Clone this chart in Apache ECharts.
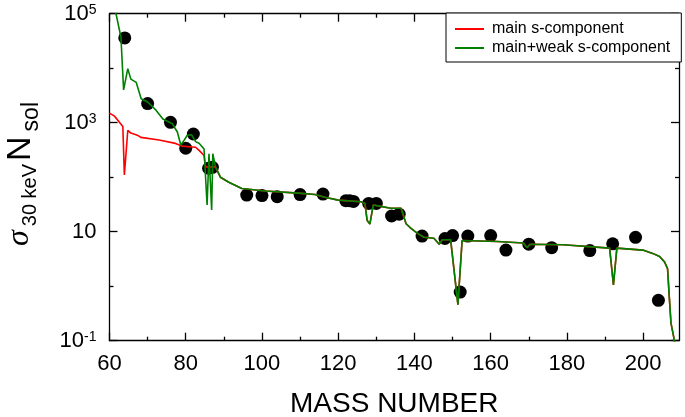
<!DOCTYPE html>
<html><head><meta charset="utf-8">
<script src="https://cdn.jsdelivr.net/npm/echarts@6/dist/echarts.min.js"></script>
<style>html,body{margin:0;padding:0;background:#fff}#c{width:685px;height:417px}</style>
</head><body><div id="c"></div>
<script>
// Measured abundances (black dots)
const dotMass  = [64, 70, 76, 80, 82, 86, 87, 96, 100, 104, 110, 116, 122, 123, 124, 128, 130, 134, 136, 142, 148, 150, 152, 154, 160, 164, 170, 176, 186, 192, 198, 204];
const dotValue = [36000, 2240, 1015, 340, 620, 146, 152, 47, 46, 44, 48, 49, 37, 37, 36, 33, 33, 19.4, 21, 8.3, 7.5, 8.5, 0.78, 8.3, 8.5, 4.6, 5.9, 5.1, 4.5, 6.0, 7.9, 0.55];

// main s-component, part below A~88
const mainHeadMass  = [60, 61.3, 62.6, 63.5, 63.9, 64.8, 65.6, 67.3, 68.2, 73, 77.3, 79, 82.6, 83.5, 84.8, 85.2];
const mainHeadValue = [1500, 1320, 1020, 850, 110, 725, 645, 590, 537, 480, 417, 372, 355, 310, 250, 155];

// main+weak s-component, part below A~88
const weakHeadMass  = [61.2, 61.7, 63.0, 63.7, 64.8, 65.6, 67.0, 68.3, 70.0, 72.2, 74.0, 76.5, 77.8, 78.7, 79.6, 80.4, 81.5, 82.6, 83.5, 84.8, 85.6, 86.1, 86.8, 87.1];
const weakHeadValue = [140000, 100000, 37000, 4000, 9800, 6300, 5500, 2750, 2400, 1700, 1170, 955, 676, 389, 479, 589, 600, 450, 420, 330, 31, 270, 25, 270];

// common part of both curves (A >= 88)
const tailMass  = [87.8, 89.1, 91.3, 94.7, 100.8, 109.5, 113.9, 116.5, 120, 126, 127.0, 127.6, 128.3, 129.2, 130.8, 133.8, 136.5, 137.8, 139.1, 140.8, 142.5, 145.1, 146.5, 147.3, 149.5, 151.4, 152.5, 161.7, 168.6, 169.5, 170.4, 179, 191.2, 192.2, 193.1, 199.9, 202.5, 204.3, 205.6, 206.4, 206.9, 207.3, 208.2, 208.6];
const tailValue = [155, 100, 81, 62, 56, 51, 48, 43, 38, 35.5, 33, 16, 13.8, 31, 29.5, 27, 27, 14, 11.5, 9.3, 7.9, 7.6, 5.9, 7.1, 7.1, 0.46, 6.9, 6.6, 6.2, 5.1, 5.9, 5.75, 5.0, 1.06, 5.0, 4.6, 4.0, 3.5, 2.8, 2.1, 0.56, 0.21, 0.1, 0.08];

const xMajorTicks = [60, 80, 100, 120, 140, 160, 180, 200];
const xMinorTicks = [70, 90, 110, 130, 150, 170, 190];
const yMajorTicks = [0.1, 10, 1000, 100000];
const yMinorTicks = [1, 100, 10000];

const seriesNames = ['main s-component', 'main+weak s-component'];

const zip = (a, b) => a.map((v, i) => [v, b[i]]);
const FONT = "'Liberation Sans', Arial, sans-serif";
const X_MIN = 60, X_MAX = 209.4, Y_MIN = 0.1, Y_MAX = 100000;

const lineCol = '#000';
function xAx(pos, ticks, len, labels, showLine) {
  return {
    type: 'value', position: pos, min: X_MIN, max: X_MAX,
    axisLine: {show: showLine, onZero: false, lineStyle: {color: lineCol, width: 1.3}},
    axisTick: {show: true, inside: true, length: len, customValues: ticks, lineStyle: {color: lineCol, width: 1.3}},
    axisLabel: labels ? {show: true, customValues: ticks, fontSize: 22, color: '#000', fontFamily: FONT, margin: 12} : {show: false},
    splitLine: {show: false}
  };
}
function yAx(pos, ticks, len, labels, showLine) {
  return {
    type: 'log', logBase: 10, position: pos, min: Y_MIN, max: Y_MAX,
    axisLine: {show: showLine, onZero: false, lineStyle: {color: lineCol, width: 1.3}},
    axisTick: {show: true, inside: true, length: len, customValues: ticks, lineStyle: {color: lineCol, width: 1.3}},
    axisLabel: labels ? {
      show: true, customValues: ticks, margin: 13, color: '#000', fontFamily: FONT,
      formatter: function (v) {
        const e = Math.round(Math.log10(v));
        if (e === 1) return '{m|10}';
        return '{m|10}{s|' + e + '}';
      },
      rich: {
        m: {fontSize: 22, lineHeight: 22, verticalAlign: 'middle', fontFamily: FONT, color: '#000'},
        s: {fontSize: 14, lineHeight: 14, verticalAlign: 'top', padding: [0, 0, 18, 0], fontFamily: FONT, color: '#000'}
      }
    } : {show: false},
    splitLine: {show: false}
  };
}

const chart = echarts.init(document.getElementById('c'), null, {renderer: 'canvas'});
chart.setOption({
  animation: false,
  backgroundColor: '#fff',
  grid: {left: 109.5, top: 13.7, right: 6, bottom: 76.3, containLabel: false, outerBoundsMode: 'none'},
  xAxis: [
    Object.assign(xAx('bottom', xMajorTicks, 8, true, true), {
      name: 'MASS NUMBER', nameLocation: 'middle', nameGap: 50,
      nameTextStyle: {fontSize: 28, color: '#000', fontFamily: FONT}
    }),
    xAx('bottom', xMinorTicks, 4, false, false),
    xAx('top', xMajorTicks, 8, false, true),
    xAx('top', xMinorTicks, 4, false, false)
  ],
  yAxis: [
    yAx('left', yMajorTicks, 8, true, true),
    yAx('left', yMinorTicks, 4, false, false),
    yAx('right', yMajorTicks, 8, false, true),
    yAx('right', yMinorTicks, 4, false, false)
  ],
  legend: {
    data: seriesNames.map(n => ({name: n, icon: 'rect'})), orient: 'vertical', left: 446, top: 13,
    borderColor: '#000', borderWidth: 1, backgroundColor: '#fff', borderRadius: 0,
    padding: [8, 11, 6, 9], itemGap: 3, itemWidth: 29, itemHeight: 2,
    textStyle: {fontSize: 16, lineHeight: 16, color: '#000', fontFamily: FONT, padding: [0, 0, 0, 3]}
  },
  graphic: [{
    type: 'text', x: 21, y: 174, rotation: Math.PI / 2,
    style: {
      text: '{s|σ}{a|30 keV}{n|N}{b|sol}',
      align: 'center', verticalAlign: 'middle', fill: '#000',
      rich: {
        s: {fontSize: 32, lineHeight: 35, verticalAlign: 'top', fontStyle: 'italic', fontFamily: "'Liberation Serif', serif", fill: '#000', padding: [0, 3, 0, 0]},
        a: {fontSize: 20, lineHeight: 20, verticalAlign: 'top', padding: [17, 3, 0, 1], fontFamily: FONT, fill: '#000'},
        n: {fontSize: 34, lineHeight: 35, verticalAlign: 'top', fontFamily: FONT, fill: '#000', padding: [0, 5, 0, 0]},
        b: {fontSize: 23, lineHeight: 23, verticalAlign: 'top', padding: [17, 0, 0, 0], fontFamily: FONT, fill: '#000'}
      }
    }
  }],
  series: [
    {
      type: 'scatter', name: 'data', data: zip(dotMass, dotValue),
      symbol: 'circle', symbolSize: 13, itemStyle: {color: '#000', opacity: 1}, z: 2
    },
    {
      type: 'line', name: seriesNames[0], data: zip(mainHeadMass.concat(tailMass), mainHeadValue.concat(tailValue)),
      symbol: 'none', lineStyle: {color: '#ff0000', width: 1.6}, itemStyle: {color: '#ff0000'}, z: 3, clip: true
    },
    {
      type: 'line', name: seriesNames[1], data: zip(weakHeadMass.concat(tailMass), weakHeadValue.concat(tailValue)),
      symbol: 'none', lineStyle: {color: '#008000', width: 1.6}, itemStyle: {color: '#008000'}, z: 4, clip: true
    }
  ]
});
</script>
</body></html>
